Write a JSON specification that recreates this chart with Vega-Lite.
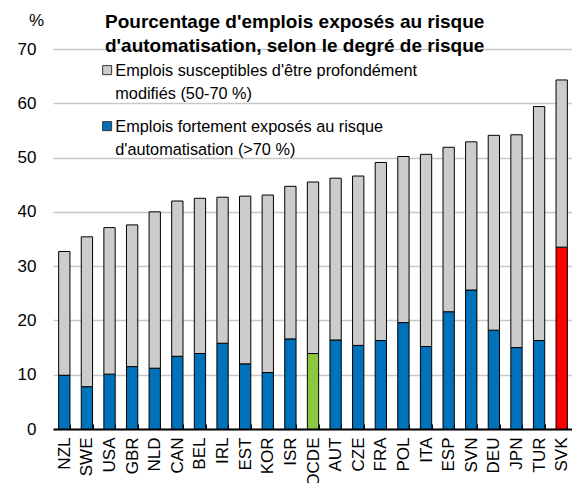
{
  "$schema": "https://vega.github.io/schema/vega-lite/v6.json",
  "width": 520,
  "height": 380,
  "autosize": "none",
  "padding": {"left": 53, "top": 49, "right": 0, "bottom": 54},
  "config": {
    "font": "Liberation Sans",
    "view": {"stroke": null},
    "axis": {"labelColor": "black", "labelFont": "Liberation Sans", "titleFont": "Liberation Sans"},
    "style": {"guide-label": {"lineHeight": 23}}
  },
  "title": {
    "text": ["Pourcentage d'emplois exposés au risque", "d'automatisation, selon le degré de risque"],
    "fontSize": 19,
    "fontWeight": "bold",
    "font": "Liberation Sans",
    "color": "black",
    "anchor": "start",
    "frame": "group",
    "dx": 52,
    "offset": -45,
    "lineHeight": 24
  },
  "data": {
    "values": [
      {"pays": "NZL", "risque": "fort", "valeur": 9.9},
      {"pays": "NZL", "risque": "modifié", "valeur": 22.8},
      {"pays": "SWE", "risque": "fort", "valeur": 7.8},
      {"pays": "SWE", "risque": "modifié", "valeur": 27.6},
      {"pays": "USA", "risque": "fort", "valeur": 10.1},
      {"pays": "USA", "risque": "modifié", "valeur": 27.0},
      {"pays": "GBR", "risque": "fort", "valeur": 11.5},
      {"pays": "GBR", "risque": "modifié", "valeur": 26.1},
      {"pays": "NLD", "risque": "fort", "valeur": 11.2},
      {"pays": "NLD", "risque": "modifié", "valeur": 28.8},
      {"pays": "CAN", "risque": "fort", "valeur": 13.4},
      {"pays": "CAN", "risque": "modifié", "valeur": 28.6},
      {"pays": "BEL", "risque": "fort", "valeur": 13.9},
      {"pays": "BEL", "risque": "modifié", "valeur": 28.6},
      {"pays": "IRL", "risque": "fort", "valeur": 15.8},
      {"pays": "IRL", "risque": "modifié", "valeur": 26.9},
      {"pays": "EST", "risque": "fort", "valeur": 12.0},
      {"pays": "EST", "risque": "modifié", "valeur": 30.9},
      {"pays": "KOR", "risque": "fort", "valeur": 10.4},
      {"pays": "KOR", "risque": "modifié", "valeur": 32.7},
      {"pays": "ISR", "risque": "fort", "valeur": 16.6},
      {"pays": "ISR", "risque": "modifié", "valeur": 28.1},
      {"pays": "OCDE", "risque": "fort", "valeur": 13.9},
      {"pays": "OCDE", "risque": "modifié", "valeur": 31.6},
      {"pays": "AUT", "risque": "fort", "valeur": 16.4},
      {"pays": "AUT", "risque": "modifié", "valeur": 29.8},
      {"pays": "CZE", "risque": "fort", "valeur": 15.4},
      {"pays": "CZE", "risque": "modifié", "valeur": 31.2},
      {"pays": "FRA", "risque": "fort", "valeur": 16.3},
      {"pays": "FRA", "risque": "modifié", "valeur": 32.8},
      {"pays": "POL", "risque": "fort", "valeur": 19.6},
      {"pays": "POL", "risque": "modifié", "valeur": 30.6},
      {"pays": "ITA", "risque": "fort", "valeur": 15.2},
      {"pays": "ITA", "risque": "modifié", "valeur": 35.4},
      {"pays": "ESP", "risque": "fort", "valeur": 21.6},
      {"pays": "ESP", "risque": "modifié", "valeur": 30.3},
      {"pays": "SVN", "risque": "fort", "valeur": 25.6},
      {"pays": "SVN", "risque": "modifié", "valeur": 27.3},
      {"pays": "DEU", "risque": "fort", "valeur": 18.2},
      {"pays": "DEU", "risque": "modifié", "valeur": 35.9},
      {"pays": "JPN", "risque": "fort", "valeur": 15.0},
      {"pays": "JPN", "risque": "modifié", "valeur": 39.2},
      {"pays": "TUR", "risque": "fort", "valeur": 16.3},
      {"pays": "TUR", "risque": "modifié", "valeur": 43.1},
      {"pays": "SVK", "risque": "fort", "valeur": 33.5},
      {"pays": "SVK", "risque": "modifié", "valeur": 30.8}
    ]
  },
  "transform": [
    {"calculate": "datum.risque == 'modifié' ? 'mod' : (datum.pays == 'OCDE' ? 'ocde' : (datum.pays == 'SVK' ? 'svk' : 'fort'))", "as": "groupe"}
  ],
  "mark": {"type": "bar", "stroke": "black", "strokeWidth": 1},
  "encoding": {
    "x": {
      "field": "pays",
      "type": "nominal",
      "sort": null,
      "scale": {"paddingInner": 0.5, "paddingOuter": 0.25},
      "axis": {
        "title": null,
        "labelAngle": -90,
        "labelFontSize": 17,
        "labelPadding": 13,
        "domainColor": "black",
        "domainWidth": 2,
        "tickColor": "black",
        "tickWidth": 1,
        "tickSize": -5,
        "tickBand": "extent",
        "grid": false
      }
    },
    "y": {
      "field": "valeur",
      "type": "quantitative",
      "stack": "zero",
      "scale": {"domain": [0, 70], "nice": false},
      "axis": {
        "title": "%",
        "titleAngle": 0,
        "titleFontSize": 17,
        "titleFontWeight": "normal",
        "titleColor": "black",
        "titleAlign": "center",
        "titleBaseline": "middle",
        "titleX": -17,
        "titleY": -29,
        "values": [0, 10, 20, 30, 40, 50, 60, 70],
        "labelFontSize": 17,
        "labelPadding": 17,
        "domain": false,
        "ticks": false,
        "grid": true,
        "gridColor": "#c8c8c8",
        "gridWidth": 1.5
      }
    },
    "color": {
      "field": "groupe",
      "type": "nominal",
      "scale": {"domain": ["mod", "fort", "ocde", "svk"], "range": ["#cccccc", "#0072bc", "#8dc63f", "#ff0000"]},
      "legend": {
        "values": ["mod", "fort"],
        "title": null,
        "orient": "none",
        "legendX": 46,
        "legendY": 13,
        "symbolType": "square",
        "symbolSize": 81,
        "symbolStrokeColor": "#333333",
        "symbolStrokeWidth": 1,
        "symbolOpacity": 1,
        "labelFontSize": 16.3,
        "labelColor": "black",
        "labelLimit": 400,
        "labelOffset": 0,
        "labelBaseline": "top",
        "labelExpr": "datum.value == 'mod' ? [\"Emplois susceptibles d'être profondément\", \"modifiés (50-70 %)\"] : [\"Emplois fortement exposés au risque\", \"d'automatisation (>70 %)\"]",
        "rowPadding": 15,
        "padding": 0,
        "encode": {"labels": {"update": {"dy": {"value": -7}}}}
      }
    },
    "order": {"field": "risque", "sort": "ascending"}
  }
}
